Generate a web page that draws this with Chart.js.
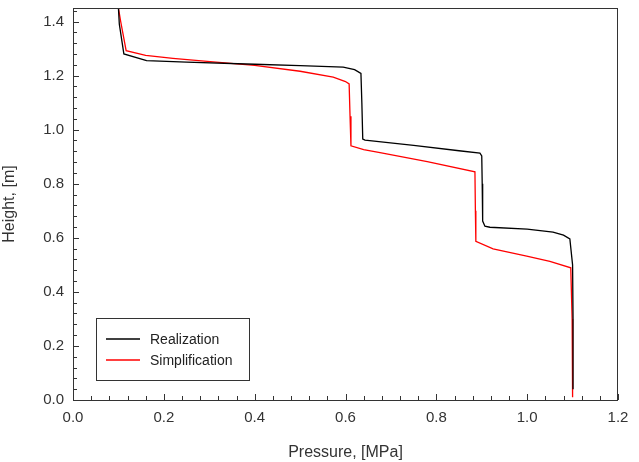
<!DOCTYPE html>
<html>
<head>
<meta charset="utf-8">
<script src="https://cdn.jsdelivr.net/npm/chart.js@4.4.1/dist/chart.umd.min.js"></script>
<style>
  html, body { margin: 0; padding: 0; background: #fff; }
  #wrap { width: 639px; height: 462px; }
</style>
</head>
<body>
<div id="wrap"><canvas id="chart"></canvas></div>
<script>
// pressure [MPa] / height [m]
const realPressure = [0.100, 0.102, 0.112, 0.162, 0.25, 0.40, 0.50, 0.595, 0.620, 0.634, 0.636, 0.638, 0.643, 0.75, 0.85, 0.896, 0.900, 0.901, 0.902, 0.907, 0.918, 1.00, 1.057, 1.080, 1.094, 1.100, 1.101, 1.101];
const realHeight   = [1.45, 1.39, 1.28, 1.255, 1.250, 1.242, 1.237, 1.231, 1.222, 1.208, 1.10, 0.965, 0.961, 0.942, 0.922, 0.913, 0.903, 0.80, 0.662, 0.643, 0.639, 0.632, 0.621, 0.610, 0.596, 0.50, 0.30, 0.04];

const simpPressure = [0.100, 0.105, 0.117, 0.16, 0.22, 0.302, 0.40, 0.50, 0.573, 0.600, 0.608, 0.610, 0.612, 0.640, 0.676, 0.78, 0.885, 0.886, 0.887, 0.925, 0.999, 1.05, 1.096, 1.099, 1.100];
const simpHeight   = [1.45, 1.40, 1.292, 1.275, 1.264, 1.252, 1.238, 1.216, 1.194, 1.178, 1.169, 1.05, 0.94, 0.926, 0.915, 0.882, 0.844, 0.70, 0.587, 0.559, 0.532, 0.513, 0.489, 0.30, 0.01];

const seriesNames = ['Realization', 'Simplification'];
const seriesColors = ['#000000', '#ff0000'];

const xTicks = [0.0, 0.2, 0.4, 0.6, 0.8, 1.0, 1.2];
const yTicks = [0.0, 0.2, 0.4, 0.6, 0.8, 1.0, 1.2, 1.4];

const FONT = '"Liberation Sans", Arial, sans-serif';
const AXIS = '#333333';

function toPoints(xs, ys) {
    return xs.map((x, i) => ({x: x, y: ys[i]}))
}

// frame around the plot, inward ticks, legend box inside the plot
const frameAndTicks = {
    id: 'frameAndTicks',
    afterDatasetsDraw(chart) {
        const ctx = chart.ctx;
        const a = chart.chartArea;
        const xs = chart.scales.x, ys = chart.scales.y;
        ctx.save();
        ctx.strokeStyle = AXIS;
        ctx.lineWidth = 1;
        ctx.strokeRect(a.left + 0.5, a.top + 0.5, a.right - a.left - 1, a.bottom - a.top);

        ctx.beginPath();
        for (let k = 0; k <= 30; k++) {
            const v = k * 0.04;
            const px = Math.round(xs.getPixelForValue(v)) + 0.5;
            const len = (k % 5 === 0) ? 6 : 4;
            ctx.moveTo(px, a.bottom);
            ctx.lineTo(px, a.bottom - len);
        }
        for (let k = 0; k <= 36; k++) {
            const v = k * 0.04;
            const py = Math.round(ys.getPixelForValue(v)) + 0.5;
            const len = (k % 5 === 0) ? 6 : 4;
            ctx.moveTo(a.left, py);
            ctx.lineTo(a.left + len, py);
        }
        ctx.stroke();

        // legend
        const bx = 96, by = 318, bw = 153, bh = 62;
        ctx.fillStyle = '#fff';
        ctx.fillRect(bx, by, bw, bh);
        ctx.strokeStyle = AXIS;
        ctx.strokeRect(bx + 0.5, by + 0.5, bw, bh);
        ctx.font = '14px ' + FONT;
        ctx.textBaseline = 'middle';
        ctx.textAlign = 'left';
        chart.data.datasets.forEach((ds, i) => {
            const y = by + 21 + i * 21;
            ctx.strokeStyle = ds.borderColor;
            ctx.lineWidth = 1.3;
            ctx.beginPath();
            ctx.moveTo(bx + 10, y);
            ctx.lineTo(bx + 44, y);
            ctx.stroke();
            ctx.fillStyle = '#222';
            ctx.fillText(ds.label, bx + 54, y + 1);
        });
        ctx.restore();
    }
};

const ctx = document.getElementById('chart');
new Chart(ctx, {
    type: 'scatter',
    data: {
        datasets: [
            {label: seriesNames[0], data: toPoints(realPressure, realHeight), borderColor: seriesColors[0]},
            {label: seriesNames[1], data: toPoints(simpPressure, simpHeight), borderColor: seriesColors[1]},
        ]
    },
    options: {
        responsive: true,
        maintainAspectRatio: false,
        animation: false,
        showLine: true,
        elements: {
            point: {radius: 0},
            line: {borderWidth: 1.3, tension: 0}
        },
        layout: {padding: {left: 0, top: 8, right: 21, bottom: 0}},
        plugins: {
            legend: {display: false},
            tooltip: {enabled: false}
        },
        scales: {
            x: {
                type: 'linear',
                min: 0, max: 1.2,
                afterBuildTicks: s => { s.ticks = xTicks.map(v => ({value: v})) },
                afterFit: s => { s.height = 62; s.paddingLeft = 0; s.paddingRight = 0 },
                grid: {display: false, drawTicks: false},
                border: {display: false},
                ticks: {
                    padding: 9,
                    color: AXIS,
                    font: {family: FONT, size: 15},
                    callback: v => v.toFixed(1)
                },
                title: {
                    display: true,
                    text: 'Pressure, [MPa]',
                    color: AXIS,
                    font: {family: FONT, size: 16},
                    padding: {top: 0, bottom: 0}
                }
            },
            y: {
                type: 'linear',
                min: 0, max: 1.45,
                afterBuildTicks: s => { s.ticks = yTicks.map(v => ({value: v})) },
                afterFit: s => { s.width = 73; s.paddingTop = 0; s.paddingBottom = 0 },
                grid: {display: false, drawTicks: false},
                border: {display: false},
                ticks: {
                    padding: 9,
                    color: AXIS,
                    font: {family: FONT, size: 15},
                    callback: v => v.toFixed(1)
                },
                title: {
                    display: true,
                    text: 'Height, [m]',
                    color: AXIS,
                    font: {family: FONT, size: 16},
                    padding: {top: 0, bottom: 0}
                }
            }
        }
    },
    plugins: [frameAndTicks]
});
</script>
</body>
</html>
